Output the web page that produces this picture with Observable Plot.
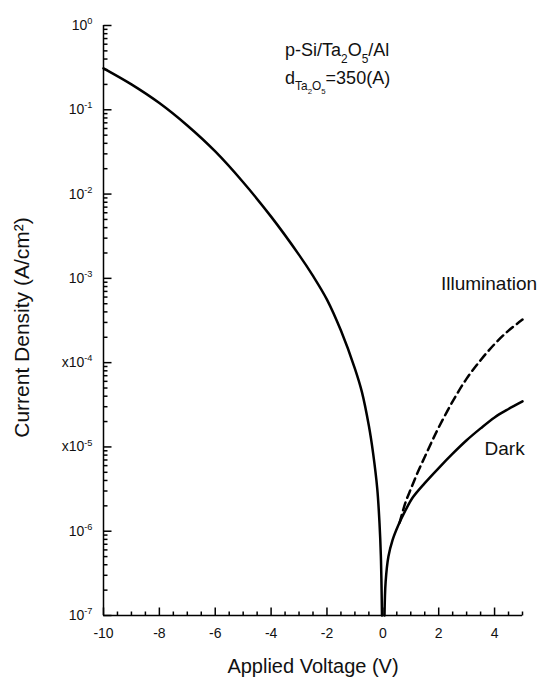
<!DOCTYPE html>
<html>
<head>
<meta charset="utf-8">
<script src="https://cdn.jsdelivr.net/npm/d3@7"></script>
<script src="https://cdn.jsdelivr.net/npm/@observablehq/plot@0.6"></script>
<style>
  body { margin: 0; background: #fff; }
  #chart svg { display: block; font-family: "Liberation Sans", Arial, Helvetica, sans-serif; font-size: 14px; }
</style>
</head>
<body>
<div id="chart"></div>
<script>
// ---- Data ----
// Dark current, left branch (reverse bias down to ~0 V)
const darkLeftV = [-10, -9, -8, -7, -6, -5, -4, -3, -2.5, -2, -1.5, -1, -0.75, -0.5, -0.35, -0.2, -0.12, -0.07, -0.03];
const darkLeftJ = [0.31, 0.20, 0.12, 0.065, 0.032, 0.0138, 5.4e-3, 1.9e-3, 1.07e-3, 5.6e-4, 2.4e-4, 8.5e-5, 4.5e-5, 1.78e-5, 8.5e-6, 3.2e-6, 1.26e-6, 5.0e-7, 1.0e-7];
// Dark current, forward branch
const darkRightV = [0.06, 0.1, 0.2, 0.35, 0.55, 0.8, 1.07, 1.5, 2, 2.5, 3, 3.5, 4, 4.5, 5];
const darkRightJ = [1.0e-7, 2.5e-7, 5.0e-7, 7.9e-7, 1.17e-6, 1.74e-6, 2.51e-6, 3.72e-6, 5.62e-6, 8.32e-6, 1.2e-5, 1.66e-5, 2.24e-5, 2.82e-5, 3.47e-5];
// Illumination (dashed), forward branch
const illumV = [0.6, 0.8, 1.0, 1.25, 1.5, 1.75, 2, 2.5, 3, 3.5, 4, 4.5, 5];
const illumJ = [1.26e-6, 2.14e-6, 3.16e-6, 5.0e-6, 7.6e-6, 1.15e-5, 1.7e-5, 3.47e-5, 6.46e-5, 1.07e-4, 1.66e-4, 2.4e-4, 3.24e-4];

// Axis ticks and labels
const xMajorTicks = [-10, -8, -6, -4, -2, 0, 2, 4];
const xMinorTicks = d3.range(-10, 5.001, 0.5).filter(v => v % 2 !== 0);
const yMajorTicks = [1, 1e-1, 1e-2, 1e-3, 1e-4, 1e-5, 1e-6, 1e-7];
const yTickLabels = ["10^{0}", "10^{-1}", "10^{-2}", "10^{-3}", "x10^{-4}", "x10^{-5}", "10^{-6}", "10^{-7}"];
const yMinorTicks = [];
for (let e = -7; e < 0; e++) for (let m = 2; m <= 9; m++) yMinorTicks.push(m * Math.pow(10, e));

const xTitle = "Applied Voltage (V)";
const yTitle = "Current Density (A/cm²)";
const annot1 = "p-Si/Ta_{2}O_{5}/Al";
const annot2 = "d_{Ta_{2}O_{5}}=350(A)";
const labelIllum = "Illumination";
const labelDark = "Dark";

const darkLeft = darkLeftV.map((v, i) => ({V: v, J: darkLeftJ[i]}));
const darkRight = darkRightV.map((v, i) => ({V: v, J: darkRightJ[i]}));
const illum = illumV.map((v, i) => ({V: v, J: illumJ[i]}));

// ---- Layout ----
const W = 544, H = 682;
const mL = 103, mR = 22, mT = 25, mB = 67;
const fw = W - mL - mR, fh = H - mT - mB;
const xDomain = [-10, 5], yDomain = [1e-7, 1];
// tick lengths (px) converted to extents along the scales
const pxPerDecade = fh / (Math.log10(yDomain[1]) - Math.log10(yDomain[0]));
const pxPerVolt = fw / (xDomain[1] - xDomain[0]);
const yTickEnd = len => yDomain[0] * Math.pow(10, len / pxPerDecade);
const xTickEnd = len => xDomain[0] + len / pxPerVolt;

// tick segments as two-point paths (one z per tick)
const tickSegs = [];
xMinorTicks.forEach((v, i) => { tickSegs.push({x: v, y: yDomain[0], z: "xm" + i}, {x: v, y: yTickEnd(4), z: "xm" + i}); });
xMajorTicks.forEach((v, i) => { tickSegs.push({x: v, y: yDomain[0], z: "xM" + i}, {x: v, y: yTickEnd(8), z: "xM" + i}); });
yMinorTicks.forEach((v, i) => { tickSegs.push({x: xDomain[0], y: v, z: "ym" + i}, {x: xTickEnd(4), y: v, z: "ym" + i}); });
yMajorTicks.forEach((v, i) => { tickSegs.push({x: xDomain[0], y: v, z: "yM" + i}, {x: xTickEnd(8), y: v, z: "yM" + i}); });

const svg = Plot.plot({
  width: W,
  height: H,
  marginLeft: mL,
  marginRight: mR,
  marginTop: mT,
  marginBottom: mB,
  x: {domain: xDomain},
  y: {type: "log", domain: yDomain},
  marks: [
    // axis lines
    Plot.ruleX([-10], {stroke: "black", strokeWidth: 1.5}),
    Plot.ruleY([1e-7], {stroke: "black", strokeWidth: 1.5}),
    // inward ticks
    Plot.line(tickSegs, {x: "x", y: "y", z: "z", stroke: "#000", strokeWidth: 1.5, strokeLinecap: "butt"}),
    // tick labels
    Plot.axisX({ticks: xMajorTicks, tickSize: 0, tickPadding: 13, tickFormat: d => String(d), label: null, fontSize: 14, fill: "#111"}),
    Plot.axisY({ticks: yMajorTicks, tickSize: 0, tickPadding: 11,
      tickFormat: d => yTickLabels[yMajorTicks.findIndex(t => Math.abs(Math.log10(t) - Math.log10(d)) < 1e-6)],
      label: null, fontSize: 14, fill: "#111"}),
    // curves
    Plot.line(darkLeft, {x: "V", y: "J", stroke: "#000", strokeWidth: 2.5, curve: "catmull-rom"}),
    Plot.line(darkRight, {x: "V", y: "J", stroke: "#000", strokeWidth: 2.5, curve: "catmull-rom"}),
    Plot.line(illum, {x: "V", y: "J", stroke: "#000", strokeWidth: 2.5, strokeDasharray: "8,5", curve: "catmull-rom"}),
    // labels
    Plot.text([labelIllum], {x: 3.8, y: 8.7e-4, fontSize: 19, textAnchor: "middle", fill: "#111"}),
    Plot.text([labelDark], {x: 4.36, y: 9.5e-6, fontSize: 19, textAnchor: "middle", fill: "#111"}),
    Plot.text([annot1], {x: -3.5, y: 0.505, fontSize: 18, textAnchor: "start", fill: "#111"}),
    Plot.text([annot2], {x: -3.5, y: 0.24, fontSize: 18, textAnchor: "start", fill: "#111"}),
    // axis titles
    Plot.text([xTitle], {frameAnchor: "bottom", dy: 51, fontSize: 20, textAnchor: "middle", lineAnchor: "middle", fill: "#111"}),
    Plot.text([yTitle], {frameAnchor: "left", dx: -81, dy: 7, rotate: -90, fontSize: 21, textAnchor: "middle", lineAnchor: "middle", fill: "#111"})
  ]
});

document.getElementById("chart").append(svg);

// ---- Rich text (superscripts / subscripts) ----
function parseRich(s, base) {
  const out = [];
  function walk(i, shift, size) {
    let buf = "";
    const flush = () => { if (buf) { out.push({t: buf, shift, size}); buf = ""; } };
    while (i < s.length) {
      const c = s[i];
      if (c === "}") { flush(); return i + 1; }
      if ((c === "^" || c === "_") && s[i + 1] === "{") {
        flush();
        const ns = size * 0.66;
        const nshift = c === "^" ? shift - size * 0.42 : shift + size * 0.36;
        i = walk(i + 2, nshift, ns);
        continue;
      }
      buf += c; i++;
    }
    flush();
    return i;
  }
  walk(0, 0, base);
  return out;
}
const NS = "http://www.w3.org/2000/svg";
svg.querySelectorAll("text").forEach(el => {
  const s = el.textContent;
  if (!/[\^_]\{/.test(s)) return;
  const base = parseFloat(getComputedStyle(el).fontSize) || 14;
  const segs = parseRich(s, base);
  el.textContent = "";
  let cur = 0;
  segs.forEach(seg => {
    const ts = document.createElementNS(NS, "tspan");
    ts.textContent = seg.t;
    if (seg.shift !== cur) ts.setAttribute("dy", (seg.shift - cur).toFixed(2));
    cur = seg.shift;
    if (seg.size !== base) ts.setAttribute("font-size", seg.size.toFixed(2));
    el.appendChild(ts);
  });
});
</script>
</body>
</html>
